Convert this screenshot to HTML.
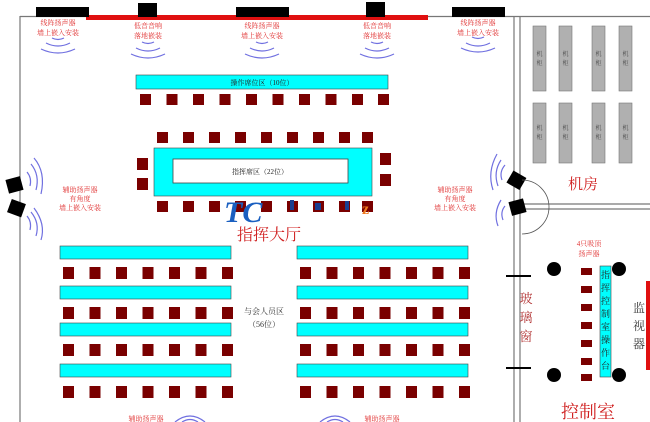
<!DOCTYPE html>
<html><head><meta charset="utf-8"><style>
html,body{margin:0;padding:0;background:#fff;}
svg{display:block;}
text{font-family:"Liberation Serif","Noto Serif CJK SC",serif;}
.r{fill:#e03030;font-size:7px;text-anchor:middle;}
.a{fill:none;stroke:#7070e0;stroke-width:1.2;}
</style></head><body>
<svg width="650" height="422" viewBox="0 0 650 422">
<!-- walls -->
<line x1="20" y1="16" x2="20" y2="422" stroke="#777" stroke-width="1.2"/>
<line x1="20" y1="16.5" x2="650" y2="16.5" stroke="#777" stroke-width="1.2"/>
<line x1="514" y1="16" x2="514" y2="422" stroke="#777" stroke-width="1.2"/>
<line x1="520" y1="16" x2="520" y2="422" stroke="#777" stroke-width="1.2"/>
<line x1="520" y1="204" x2="650" y2="204" stroke="#777" stroke-width="1.2"/>
<line x1="520" y1="209" x2="650" y2="209" stroke="#777" stroke-width="1.2"/>
<rect x="86" y="15" width="342" height="5" fill="#e01010"/>
<!-- top speakers -->
<rect x="36" y="7" width="53" height="10" fill="#000"/>
<rect x="138" y="3" width="19" height="14" fill="#000"/>
<rect x="236" y="7" width="53" height="10" fill="#000"/>
<rect x="366" y="2" width="19" height="15" fill="#000"/>
<rect x="452" y="7" width="53" height="10" fill="#000"/>
<text class="r" x="58" y="25">线阵扬声器</text><text class="r" x="58" y="35">墙上嵌入安装</text>
<text class="r" x="148" y="28">低音音响</text><text class="r" x="148" y="38">落地嵌装</text>
<text class="r" x="262" y="28">线阵扬声器</text><text class="r" x="262" y="38">墙上嵌入安装</text>
<text class="r" x="377" y="28">低音音响</text><text class="r" x="377" y="38">落地嵌装</text>
<text class="r" x="478" y="25">线阵扬声器</text><text class="r" x="478" y="35">墙上嵌入安装</text>
<g class="a">
<path d="M52 38 Q58 41 64 38"/><path d="M46 43 Q58 49 70 43"/><path d="M41 49 Q58 57 75 49"/>
<path d="M142 42 Q148 45 154 42"/><path d="M136 48 Q148 54 160 48"/><path d="M131 54 Q148 62 165 54"/>
<path d="M256 42 Q262 45 268 42"/><path d="M250 48 Q262 54 274 48"/><path d="M245 54 Q262 62 279 54"/>
<path d="M371 42 Q377 45 383 42"/><path d="M365 48 Q377 54 389 48"/><path d="M360 54 Q377 62 394 54"/>
<path d="M472 37 Q478 40 484 37"/><path d="M466 43 Q478 49 490 43"/><path d="M461 48 Q478 56 495 48"/>
</g>
<!-- operator row -->
<rect x="136" y="75" width="252" height="14" fill="#00ffff" stroke="#444" stroke-width="0.6"/>
<text x="262" y="85" font-size="7" text-anchor="middle" fill="#222">操作席位区（10位）</text>
<g fill="#7a0000">
<rect x="140" y="94" width="11" height="11"/><rect x="166.5" y="94" width="11" height="11"/><rect x="193" y="94" width="11" height="11"/><rect x="219.5" y="94" width="11" height="11"/><rect x="246" y="94" width="11" height="11"/><rect x="272.5" y="94" width="11" height="11"/><rect x="299" y="94" width="11" height="11"/><rect x="325.5" y="94" width="11" height="11"/><rect x="352" y="94" width="11" height="11"/><rect x="378" y="94" width="11" height="11"/>
</g>
<!-- command table -->
<g fill="#7a0000">
<rect x="157" y="132" width="11" height="11"/><rect x="183" y="132" width="11" height="11"/><rect x="209" y="132" width="11" height="11"/><rect x="235" y="132" width="11" height="11"/><rect x="261" y="132" width="11" height="11"/><rect x="287" y="132" width="11" height="11"/><rect x="313" y="132" width="11" height="11"/><rect x="339" y="132" width="11" height="11"/><rect x="362" y="132" width="11" height="11"/>
<rect x="157" y="201" width="11" height="11"/><rect x="183" y="201" width="11" height="11"/><rect x="209" y="201" width="11" height="11"/><rect x="235" y="201" width="11" height="11"/><rect x="261" y="201" width="11" height="11"/><rect x="287" y="201" width="11" height="11"/><rect x="313" y="201" width="11" height="11"/><rect x="339" y="201" width="11" height="11"/><rect x="362" y="201" width="11" height="11"/>
<rect x="137" y="158" width="11" height="12"/><rect x="137" y="178" width="11" height="12"/>
<rect x="380" y="153" width="11" height="12"/><rect x="380" y="174" width="11" height="12"/>
</g>
<rect x="154" y="148" width="218" height="48" fill="#00ffff" stroke="#444" stroke-width="0.6"/>
<rect x="173" y="159" width="175" height="24" fill="#fff" stroke="#444" stroke-width="0.8"/>
<text x="260" y="174" font-size="7" text-anchor="middle" fill="#222">指挥席区（22位）</text>
<!-- watermark -->
<text x="224" y="222" font-size="30" font-weight="bold" font-style="italic" fill="#1a5fc0" font-family="Liberation Sans,sans-serif">TC</text>
<rect x="290" y="200" width="4" height="10" fill="#1a3f90"/><rect x="315" y="203" width="6" height="7" fill="#1a3f90"/><rect x="345" y="201" width="4" height="9" fill="#1a3f90"/>
<text x="362" y="214" font-size="16" font-weight="bold" fill="#f07a20" font-family="Liberation Sans,sans-serif">z</text>
<text x="269" y="240" font-size="16" text-anchor="middle" fill="#d02020" font-family="Liberation Sans,'Noto Sans CJK SC',sans-serif">指挥大厅</text>
<!-- side speakers -->
<rect x="7" y="178" width="15" height="14" fill="#000" transform="rotate(-15 14 185)"/>
<rect x="9" y="201" width="15" height="14" fill="#000" transform="rotate(20 16 208)"/>
<rect x="509" y="173" width="15" height="14" fill="#000" transform="rotate(30 516 180)"/>
<rect x="510" y="200" width="15" height="14" fill="#000" transform="rotate(-15 518 207)"/>
<g class="a">
<path d="M27 172 Q32 178 30 186"/><path d="M31 164 Q40 175 36 190"/><path d="M34 158 Q46 172 41 194"/>
<path d="M27 216 Q32 222 30 230"/><path d="M31 212 Q40 223 36 236"/><path d="M34 208 Q46 224 41 240"/>
<path d="M505 165 Q499 172 502 180"/><path d="M501 160 Q493 172 498 186"/><path d="M497 154 Q487 172 493 190"/>
<path d="M505 206 Q500 212 503 220"/><path d="M501 200 Q493 213 498 226"/>
</g>
<path d="M522 180 A27 27 0 0 1 522 234" fill="none" stroke="#555" stroke-width="0.8"/>
<text class="r" x="80" y="192">辅助扬声器</text><text class="r" x="80" y="201">有角度</text><text class="r" x="80" y="210">墙上嵌入安装</text>
<text class="r" x="455" y="192">辅助扬声器</text><text class="r" x="455" y="201">有角度</text><text class="r" x="455" y="210">墙上嵌入安装</text>
<!-- machine room -->
<g fill="#b0b0b0" stroke="#777" stroke-width="0.6">
<rect x="533" y="26" width="13" height="65"/><rect x="559" y="26" width="13" height="65"/><rect x="592" y="26" width="13" height="65"/><rect x="619" y="26" width="13" height="65"/>
<rect x="533" y="103" width="13" height="60"/><rect x="559" y="103" width="13" height="60"/><rect x="592" y="103" width="13" height="60"/><rect x="619" y="103" width="13" height="60"/>
</g>
<g font-size="6" fill="#444" text-anchor="middle">
<text x="539.5" y="56">机</text><text x="539.5" y="65">柜</text><text x="565.5" y="56">机</text><text x="565.5" y="65">柜</text><text x="598.5" y="56">机</text><text x="598.5" y="65">柜</text><text x="625.5" y="56">机</text><text x="625.5" y="65">柜</text>
<text x="539.5" y="130">机</text><text x="539.5" y="139">柜</text><text x="565.5" y="130">机</text><text x="565.5" y="139">柜</text><text x="598.5" y="130">机</text><text x="598.5" y="139">柜</text><text x="625.5" y="130">机</text><text x="625.5" y="139">柜</text>
</g>
<text x="583" y="189" font-size="15" text-anchor="middle" fill="#d02020" font-family="Liberation Sans,'Noto Sans CJK SC',sans-serif">机房</text>
<!-- attendees -->
<g fill="#00ffff" stroke="#444" stroke-width="0.6">
<rect x="60" y="246" width="171" height="13"/><rect x="297" y="246" width="171" height="13"/>
<rect x="60" y="286" width="171" height="13"/><rect x="297" y="286" width="171" height="13"/>
<rect x="60" y="323" width="171" height="13"/><rect x="297" y="323" width="171" height="13"/>
<rect x="60" y="364" width="171" height="13"/><rect x="297" y="364" width="171" height="13"/>
</g>
<g fill="#7a0000" id="row">
<rect x="63" y="267" width="11" height="12"/><rect x="89.5" y="267" width="11" height="12"/><rect x="116" y="267" width="11" height="12"/><rect x="142.5" y="267" width="11" height="12"/><rect x="169" y="267" width="11" height="12"/><rect x="195.5" y="267" width="11" height="12"/><rect x="222" y="267" width="11" height="12"/>
<rect x="300" y="267" width="11" height="12"/><rect x="326.5" y="267" width="11" height="12"/><rect x="353" y="267" width="11" height="12"/><rect x="379.5" y="267" width="11" height="12"/><rect x="406" y="267" width="11" height="12"/><rect x="432.5" y="267" width="11" height="12"/><rect x="459" y="267" width="11" height="12"/>
</g>
<use href="#row" y="40"/><use href="#row" y="77"/><use href="#row" y="119"/>
<text x="264" y="314" font-size="8" text-anchor="middle" fill="#333">与会人员区</text>
<text x="264" y="327" font-size="8" text-anchor="middle" fill="#333">（56位）</text>
<!-- bottom speakers -->
<text class="r" x="146" y="421">辅助扬声器</text><text class="r" x="382" y="421">辅助扬声器</text>
<g class="a"><path d="M175 422 Q190 410 205 422"/><path d="M182 422 Q190 417 198 422"/><path d="M320 422 Q335 410 350 422"/><path d="M327 422 Q335 417 343 422"/></g>
<!-- control room -->
<line x1="506" y1="276" x2="531" y2="276" stroke="#000" stroke-width="2"/>
<line x1="506" y1="368" x2="531" y2="368" stroke="#000" stroke-width="2"/>
<g font-size="13" fill="#b03030" text-anchor="middle"><text x="526" y="303">玻</text><text x="526" y="322">璃</text><text x="526" y="341">窗</text></g>
<circle cx="554" cy="269" r="7" fill="#000"/><circle cx="619" cy="269" r="7" fill="#000"/>
<circle cx="554" cy="375" r="7" fill="#000"/><circle cx="619" cy="375" r="7" fill="#000"/>
<text class="r" x="589" y="246">4只吸顶</text><text class="r" x="589" y="256">扬声器</text>
<g fill="#7a0000">
<rect x="581" y="268" width="11" height="7"/><rect x="581" y="286" width="11" height="7"/><rect x="581" y="304" width="11" height="7"/><rect x="581" y="322" width="11" height="7"/><rect x="581" y="340" width="11" height="7"/><rect x="581" y="358" width="11" height="7"/><rect x="581" y="374" width="11" height="7"/>
</g>
<rect x="600" y="266" width="11" height="111" fill="#00ffff" stroke="#444" stroke-width="0.6"/>
<g font-size="9" fill="#222" text-anchor="middle"><text x="605.5" y="278">指</text><text x="605.5" y="291">挥</text><text x="605.5" y="304">控</text><text x="605.5" y="317">制</text><text x="605.5" y="330">室</text><text x="605.5" y="343">操</text><text x="605.5" y="356">作</text><text x="605.5" y="369">台</text></g>
<g font-size="12" fill="#333" text-anchor="middle"><text x="639" y="312">监</text><text x="639" y="330">视</text><text x="639" y="348">器</text></g>
<rect x="646" y="281" width="4" height="89" fill="#e01010"/>
<text x="588" y="418" font-size="18" text-anchor="middle" fill="#d02020" font-family="Liberation Sans,'Noto Sans CJK SC',sans-serif">控制室</text>
</svg>
</body></html>
